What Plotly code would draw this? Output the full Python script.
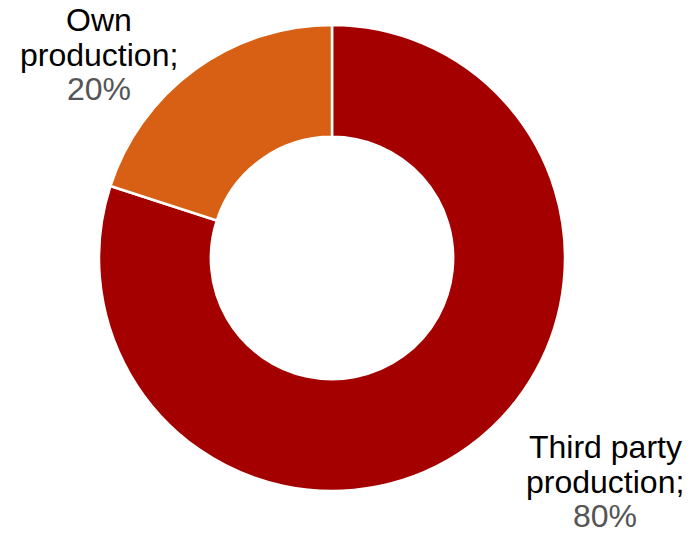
import plotly.graph_objects as go

categories = ["Third party production", "Own production"]
values = [80, 20]
colors = ["#A50000", "#D86014"]
label_lines = [["Third party", "production;"], ["Own", "production;"]]
pct_labels = ["80%", "20%"]

W, H = 697, 533
fig = go.Figure()
fig.add_trace(go.Pie(
    labels=categories, values=values, sort=False, direction="clockwise", rotation=0,
    hole=0.52, marker=dict(colors=colors, line=dict(color="white", width=2.5)),
    textinfo="none", hoverinfo="label+percent", showlegend=False,
    domain=dict(x=[99 / W, 565 / W], y=[1 - 491 / H, 1 - 25 / H]),
))

font = "Liberation Sans, Arial, sans-serif"
fs = 32
# (center x px, middle y px for each line)
blocks = [
    (605, [447, 481.5, 516]),
    (99, [20, 54.5, 89]),
]
for i, (cx, ys) in enumerate(blocks):
    texts = label_lines[i] + [pct_labels[i]]
    cols = ["#000000", "#000000", "#555555"]
    for t, y, c in zip(texts, ys, cols):
        fig.add_annotation(x=cx / W, y=1 - y / H, xref="paper", yref="paper",
                           text=t, showarrow=False, xanchor="center", yanchor="middle",
                           font=dict(family=font, size=fs, color=c))

fig.update_layout(width=W, height=H, margin=dict(l=0, r=0, t=0, b=0),
                  paper_bgcolor="white", plot_bgcolor="white")
fig.write_html("out.html")
